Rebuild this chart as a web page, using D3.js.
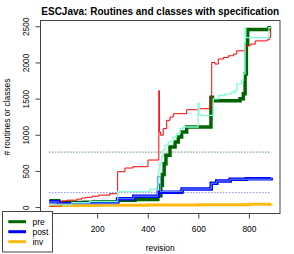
<!DOCTYPE html>
<html>
<head>
  <title>ESCJava specification chart</title>
<style>
  body {
    margin: 0;
    background-color: #fff;
    font-family: "Liberation Sans", Arial, sans-serif;
  }
  .title {
    font-weight: bold;
    font-size: 10px;
  }
  .tick text, .lbl, .legend-text {
    font-size: 8.4px;
    fill: #000;
  }
</style>
</head>
<body>
  <div id="chart"></div>

  <script src="https://d3js.org/d3.v7.min.js"></script>
  <script>
    const width = 294;
    const height = 254;

    // step series: [revision, count], value holds until the next revision
    const preValues = [[11,86],[48,63],[150,68],[185,75],[281,93],[350,105],[440,155],[452,300],[458,450],[465,600],[472,718],[488,832],[508,901],[521,970],[534,1038],[554,1107],[650,1519],[656,1470],[765,1497],[778,1566],[785,1841],[790,2250],[795,2455],[880,2480],[888,2480]];
    const postValues = [[11,75],[48,45],[120,50],[200,55],[281,115],[345,150],[442,205],[534,215],[536,250],[649,255],[651,330],[673,360],[726,385],[790,392],[888,405]];
    const invValues = [[11,20],[200,25],[400,30],[600,33],[800,38],[888,40]];
    const redValues = [[11,10],[28,15],[60,85],[80,95],[120,110],[140,125],[155,135],[180,150],[205,165],[250,185],[281,489],[310,540],[341,558],[401,650],[444,1611],[446,1038],[451,993],[461,1085],[475,1199],[488,1245],[501,1291],[554,1346],[599,1360],[646,1405],[653,2000],[666,1978],[679,2047],[699,2069],[719,2092],[739,2115],[752,2161],[788,2230],[805,2253],[825,2298],[871,2312],[880,2343],[886,2481],[888,2481]];
    const aquaValues = [[11,30],[100,60],[170,77],[281,214],[409,247],[435,261],[442,512],[448,604],[455,700],[461,787],[468,856],[481,901],[501,970],[514,1016],[528,1085],[541,1107],[599,1433],[603,1268],[659,1497],[679,1543],[706,1566],[732,1588],[745,1611],[752,1703],[772,1749],[778,1841],[785,2481],[788,2343],[879,2481],[888,2481]];
    const lightBlueValues = [[11,70],[48,45],[281,115],[345,150],[438,420],[450,214],[534,215],[536,250],[649,255],[651,330],[673,360],[726,385],[888,405]];

    // dotted reference levels
    const preLevel = 760;
    const postLevel = 200;
    const revisionRange = [11, 888];

    const xTicks = [200, 400, 600, 800];
    const yTicks = [0, 500, 1000, 1500, 2000, 2500];

    const legendNames = ["pre", "post", "inv"];
    const legendColors = ["#006400", "#0000ff", "#ffb90f"];

    const plot = { left: 40.5, right: 280, top: 20.5, bottom: 213.5 };

    const svg = d3.select("#chart")
      .append("svg")
      .attr("width", width)
      .attr("height", height);

    const x = d3.scaleLinear().domain([-24, 923]).range([plot.left, plot.right]);
    const y = d3.scaleLinear().domain([-89, 2580]).range([plot.bottom, plot.top]);

    const line = d3.line()
      .x(d => x(d[0]))
      .y(d => y(d[1]))
      .curve(d3.curveStepAfter);

    const series = [
      { values: preValues, color: "#006400", w: 3.5 },
      { values: postValues, color: "#0000ff", w: 3.5 },
      { values: invValues, color: "#ffb90f", w: 3 },
      { values: redValues, color: "#ff0000", w: 1 },
      { values: aquaValues, color: "#7fffd4", w: 1.3 },
      { values: lightBlueValues, color: "#6495ed", w: 1 }
    ];

    // dotted levels
    [[preLevel, "#006400"], [postLevel, "#5555ff"]].forEach(l => {
      svg.append("line")
        .attr("x1", x(revisionRange[0]))
        .attr("x2", x(revisionRange[1]))
        .attr("y1", y(l[0]))
        .attr("y2", y(l[0]))
        .attr("stroke", l[1])
        .attr("stroke-width", 1)
        .attr("stroke-dasharray", "1,2");
    });

    svg.selectAll(".series")
      .data(series)
      .enter()
      .append("path")
      .attr("class", "series")
      .attr("fill", "none")
      .attr("stroke", d => d.color)
      .attr("stroke-width", d => d.w)
      .attr("d", d => line(d.values));

    // axes
    const yAxis = svg.append("g")
      .attr("transform", `translate(${plot.left},0)`)
      .call(d3.axisLeft(y).tickValues(yTicks).tickFormat(d3.format("d")).tickSize(5).tickSizeOuter(0));
    yAxis.select(".domain").remove();
    yAxis.selectAll(".tick line").attr("stroke", "#444");
    yAxis.selectAll(".tick text")
      .attr("x", 0)
      .attr("dy", null)
      .attr("text-anchor", "middle")
      .attr("transform", "translate(-11.5,0) rotate(-90)")
      .style("font-family", "'Liberation Sans', Arial, sans-serif");

    const xAxis = svg.append("g")
      .attr("transform", `translate(0,${plot.bottom})`)
      .call(d3.axisBottom(x).tickValues(xTicks).tickFormat(d3.format("d")).tickSize(5).tickSizeOuter(0));
    xAxis.select(".domain").remove();
    xAxis.selectAll(".tick line").attr("stroke", "#444");
    xAxis.selectAll(".tick text")
      .attr("y", 18)
      .attr("dy", null)
      .style("font-family", "'Liberation Sans', Arial, sans-serif");

    svg.append("rect")
      .attr("x", plot.left)
      .attr("y", plot.top)
      .attr("width", plot.right - plot.left)
      .attr("height", plot.bottom - plot.top)
      .attr("fill", "none")
      .attr("stroke", "#444");

    svg.append("text")
      .attr("class", "title")
      .attr("x", (plot.left + plot.right) / 2)
      .attr("y", 14.5)
      .attr("text-anchor", "middle")
      .text("ESCJava: Routines and classes with specification");

    svg.append("text")
      .attr("class", "lbl")
      .attr("x", (plot.left + plot.right) / 2)
      .attr("y", 251)
      .attr("text-anchor", "middle")
      .text("revision");

    svg.append("text")
      .attr("class", "lbl")
      .attr("text-anchor", "middle")
      .attr("transform", `translate(10,${(plot.top + plot.bottom) / 2}) rotate(-90)`)
      .text("# routines or classes");

    // legend
    const legend = svg.append("g");
    legend.append("rect")
      .attr("x", 2.5)
      .attr("y", 211.5)
      .attr("width", 50)
      .attr("height", 40.5)
      .attr("fill", "#fff")
      .attr("stroke", "#444");

    const items = legend.selectAll(".legend-item")
      .data(legendNames)
      .enter()
      .append("g")
      .attr("class", "legend-item")
      .attr("transform", (d, i) => `translate(0,${221.7 + i * 10})`);

    items.append("line")
      .attr("x1", 8.3)
      .attr("x2", 26)
      .attr("stroke", (d, i) => legendColors[i])
      .attr("stroke-width", 3);

    items.append("text")
      .attr("class", "legend-text")
      .attr("x", 32.5)
      .attr("y", 2.8)
      .text(d => d);
  </script>
</body>
</html>
